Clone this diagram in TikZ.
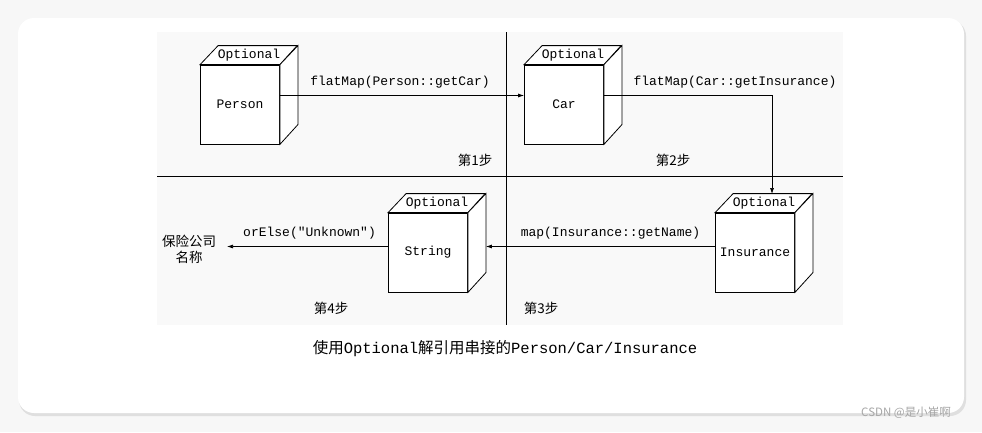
\documentclass[tikz,border=0pt]{standalone}
\usepackage{fontspec}
\setmonofont{Liberation Mono}
\newfontfamily\cjk{Noto Sans CJK SC}
\usetikzlibrary{arrows.meta,calc}
\begin{document}
\begin{tikzpicture}[x=1pt,y=-1pt,
  face/.style={draw,line width=0.8pt,fill=white,minimum width=79pt,minimum height=79pt,inner sep=0pt,font=\ttfamily\fontsize{13}{15}\selectfont},
  lbl/.style={font=\ttfamily\fontsize{13}{15}\selectfont},
  cn/.style={font=\cjk\fontsize{13.5}{16}\selectfont},
  arr/.style={line width=0.7pt,-{Latex[length=6pt,width=4pt]}}]
\useasboundingbox (0,0) rectangle (982,432);
\fill[gray!6] (0,0) rectangle (982,432);
\fill[gray!25,rounded corners=16pt] (19,20) rectangle (966,416);
\fill[white,rounded corners=16pt] (18,18) rectangle (964,413);
\fill[gray!5] (157,32) rectangle (843,325);
\draw[line width=0.8pt] (506,32) -- (506,325);
\draw[line width=0.8pt] (157,176) -- (843,176);
\newcommand\cube[3]{%
  \node[face] (#1) at (#2) {#3};
  \draw[line width=0.8pt,fill=white] (#1.north west) -- ++(18,-19) -- ++(79,0) -- ($(#1.north east)$) -- cycle;
  \draw[line width=0.8pt,fill=white] (#1.north east) -- ++(18,-19) -- ++(0,79) -- (#1.south east) -- cycle;
  \node[lbl] (#1o) at ($(#1.north)+(9,-9.5)$) {Optional};}
\cube{p}{240,104.5}{Person}
\cube{c}{564,104.5}{Car}
\cube{i}{755,252.5}{Insurance}
\cube{s}{428,252.5}{String}
\coordinate (pa) at ($(p.east)+(0,-9)$);
\coordinate (ca) at ($(c.west)+(0,-9)$);
\draw[arr] (pa) -- node[lbl,above=4pt,xshift=-2pt]{flatMap(Person::getCar)} (ca);
\coordinate (cb) at ($(c.east)+(0,-9)$);
\coordinate (it) at (772,194);
\draw[arr] (cb) -- (cb -| it) -- (it);
\node[lbl] (cl) at (735,82) {flatMap(Car::getInsurance)};
\coordinate (ia) at ($(i.west)+(0,-6)$);
\coordinate (sa) at ($(s.east)+(18,-6)$);
\draw[arr] (ia) -- node[lbl,above=4pt,xshift=10pt]{map(Insurance::getName)} (sa);
\coordinate (sb) at ($(s.west)+(0,-6)$);
\node[cn,align=center,inner sep=0pt] (res) at (189,249) {保险公司\\名称};
\coordinate (re) at (227,246.5);
\draw[arr] (sb) -- node[lbl,above=4pt,xshift=2pt]{orElse("Unknown")} (re);
\node[cn] (s1) at (475,160) {第1步};
\node[cn] (s2) at (673,160) {第2步};
\node[cn] (s3) at (541,308) {第3步};
\node[cn] (s4) at (331,308) {第4步};
\node[font=\cjk\fontsize{15.5}{18}\selectfont] (cap) at (505,349) {使用{\ttfamily Optional}解引用串接的{\ttfamily Person/Car/Insurance}};
\node[font=\cjk\fontsize{11.5}{13}\selectfont,text=gray!70] (wm) at (906,413) {CSDN @是小崔啊};
\end{tikzpicture}
\end{document}
